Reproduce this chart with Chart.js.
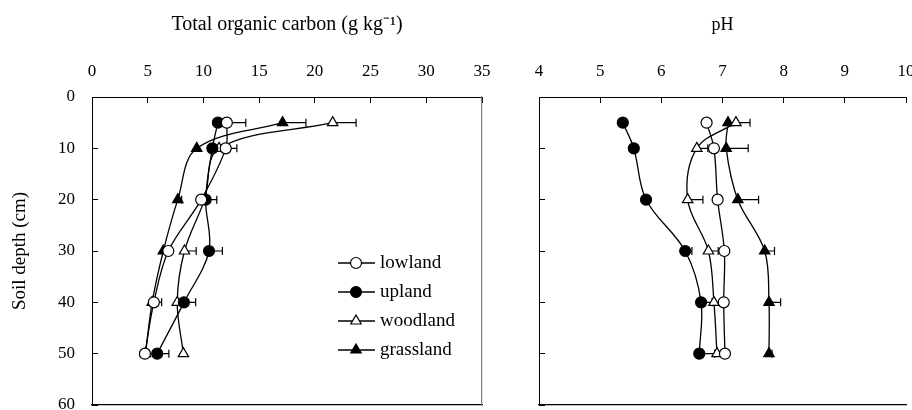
<!DOCTYPE html>
<html>
<head>
<meta charset="utf-8">
<script src="https://cdn.jsdelivr.net/npm/chart.js@4.4.1/dist/chart.umd.min.js"></script>
<style>
body{margin:0;background:#fff;}
#wrap{position:relative;width:912px;height:410px;overflow:hidden;background:#fff;}
#tocChart{position:absolute;left:0;top:0;}
#phChart{position:absolute;left:490px;top:0;}
</style>
</head>
<body>
<div id="wrap">
<canvas id="tocChart" width="490" height="410"></canvas>
<canvas id="phChart" width="422" height="410"></canvas>
</div>
<script>
// soil depths (cm)
const depths = [5, 10, 20, 30, 40, 50];
const sites = ["lowland", "upland", "woodland", "grassland"];

// total organic carbon (g/kg) and the + error bar length
const tocLowland = [12.1, 12.0, 9.8, 6.85, 5.55, 4.75];
const tocUpland = [11.3, 10.8, 10.2, 10.5, 8.25, 5.85];
const tocWoodland = [21.6, 11.4, 10.1, 8.3, 7.65, 8.2];
const tocGrassland = [17.1, 9.4, 7.7, 6.4, 5.4, 4.8];
const tocLowlandErr = [1.7, 1.0, 0, 0, 0.7, 0];
const tocUplandErr = [0, 0, 0, 1.2, 1.05, 1.05];
const tocWoodlandErr = [2.1, 0, 1.1, 1.05, 0, 0];
const tocGrasslandErr = [2.1, 0, 0.35, 0, 0, 0];

// pH
const phLowland = [6.74, 6.86, 6.92, 7.03, 7.02, 7.04];
const phUpland = [5.37, 5.55, 5.75, 6.39, 6.65, 6.62];
const phWoodland = [7.22, 6.58, 6.43, 6.77, 6.86, 6.91];
const phGrassland = [7.09, 7.06, 7.25, 7.69, 7.76, 7.76];
const phLowlandErr = [0, 0, 0, 0, 0, 0];
const phUplandErr = [0, 0, 0, 0.11, 0.18, 0.25];
const phWoodlandErr = [0.23, 0.18, 0.25, 0.16, 0, 0];
const phGrasslandErr = [0, 0.36, 0.34, 0.16, 0.19, 0.05];

const FONT = "'Liberation Serif', 'Times New Roman', serif";
Chart.defaults.font.family = FONT;
Chart.defaults.font.size = 17;
Chart.defaults.color = '#000';

const markers = [
  {pointStyle: 'circle', fill: '#fff', radius: 5.5},
  {pointStyle: 'circle', fill: '#000', radius: 5.5},
  {pointStyle: 'triangle', fill: '#fff', radius: 6},
  {pointStyle: 'triangle', fill: '#000', radius: 6}
];

function makeDatasets(series, errs) {
  return series.map((vals, k) => ({
    label: sites[k],
    data: vals.map((v, i) => ({x: v, y: depths[i]})),
    err: errs[k],
    showLine: true,
    borderColor: '#000',
    borderWidth: 1.3,
    tension: 0.35,
    pointStyle: markers[k].pointStyle,
    pointRadius: markers[k].radius,
    pointBackgroundColor: markers[k].fill,
    pointBorderColor: '#000',
    pointBorderWidth: 1.2,
    clip: false
  }));
}

// + error bars with a cap
const errorBars = {
  id: 'errorBars',
  beforeDatasetsDraw(chart) {
    const ctx = chart.ctx;
    const xs = chart.scales.x, ys = chart.scales.y;
    ctx.save();
    ctx.strokeStyle = '#000';
    ctx.lineWidth = 1.2;
    chart.data.datasets.forEach(ds => {
      ds.data.forEach((p, i) => {
        const e = ds.err[i];
        if (!e) return;
        const x0 = xs.getPixelForValue(p.x);
        const x1 = xs.getPixelForValue(p.x + e);
        const y = ys.getPixelForValue(p.y);
        ctx.beginPath();
        ctx.moveTo(x0, y); ctx.lineTo(x1, y);
        ctx.moveTo(x1, y - 4); ctx.lineTo(x1, y + 4);
        ctx.stroke();
      });
    });
    ctx.restore();
  }
};

// legend inside the left plot
const insideLegend = {
  id: 'insideLegend',
  afterDraw(chart) {
    const ctx = chart.ctx;
    const rows = [263, 292, 321, 350];
    ctx.save();
    chart.data.datasets.forEach((ds, k) => {
      const y = rows[k];
      ctx.strokeStyle = '#000';
      ctx.lineWidth = 1.3;
      ctx.beginPath(); ctx.moveTo(338, y); ctx.lineTo(375, y); ctx.stroke();
      ctx.fillStyle = ds.pointBackgroundColor;
      ctx.strokeStyle = '#000';
      ctx.lineWidth = 1.2;
      Chart.helpers.drawPoint(ctx, {pointStyle: ds.pointStyle, radius: ds.pointRadius, rotation: 0, borderWidth: 1.2}, 356, y);
      ctx.fillStyle = '#000';
      ctx.font = '19px ' + FONT;
      ctx.textBaseline = 'middle';
      ctx.textAlign = 'left';
      ctx.fillText(ds.label, 380, y);
    });
    ctx.restore();
  }
};

function axisGrid() {
  return {drawOnChartArea: false, drawTicks: true, tickLength: -6, color: '#000', lineWidth: 1};
}

// fix the box size and drop the label overhang padding
function fixSize(w, h) {
  return function(s) {
    if (w !== null) s.width = w;
    if (h !== null) s.height = h;
    s.paddingLeft = s.paddingRight = s.paddingTop = s.paddingBottom = 0;
  };
}

function makeScales(xMin, xMax, xStep, xTitle, xTitleSize, yLabels, yWidth, rightBorder) {
  const sc = {
    x: {
      type: 'linear', position: 'top', min: xMin, max: xMax,
      ticks: {stepSize: xStep, padding: 21, maxRotation: 0},
      grid: axisGrid(),
      border: {display: true, color: '#000', width: 1},
      title: {display: true, text: xTitle, font: {size: xTitleSize},
              padding: {top: 25 - xTitleSize * 0.6, bottom: 0}},
      afterFit: fixSize(null, 97)
    },
    y: {
      type: 'linear', position: 'left', reverse: true, min: 0, max: 60,
      ticks: {stepSize: 10, padding: 23, display: yLabels},
      grid: axisGrid(),
      border: {display: true, color: '#000', width: 1},
      title: {display: yLabels, text: 'Soil depth (cm)', font: {size: 19}, padding: {top: 9, bottom: 0}},
      afterFit: fixSize(yWidth, null)
    },
    x2: {
      type: 'linear', position: 'bottom', min: xMin, max: xMax,
      ticks: {display: false},
      grid: {display: false},
      border: {display: true, color: '#000', width: 1.2},
      afterFit: fixSize(null, 0)
    }
  };
  if (rightBorder) {
    sc.y2 = {
      type: 'linear', position: 'right', reverse: true, min: 0, max: 60,
      ticks: {display: false},
      grid: {display: false},
      border: {display: true, color: '#808080', width: 1.2},
      afterFit: fixSize(0, null)
    };
  }
  return sc;
}

new Chart(document.getElementById('tocChart'), {
  type: 'scatter',
  data: {
    datasets: makeDatasets(
      [tocLowland, tocUpland, tocWoodland, tocGrassland],
      [tocLowlandErr, tocUplandErr, tocWoodlandErr, tocGrasslandErr])
  },
  options: {
    responsive: false,
    animation: false,
    layout: {autoPadding: false, padding: {left: 0, top: 0, right: 8, bottom: 5}},
    plugins: {legend: {display: false}, tooltip: {enabled: false}},
    scales: makeScales(0, 35, 5, 'Total organic carbon (g kg\u207B\u00B9)', 20, true, 92, true)
  },
  plugins: [errorBars, insideLegend]
});

new Chart(document.getElementById('phChart'), {
  type: 'scatter',
  data: {
    datasets: makeDatasets(
      [phLowland, phUpland, phWoodland, phGrassland],
      [phLowlandErr, phUplandErr, phWoodlandErr, phGrasslandErr])
  },
  options: {
    responsive: false,
    animation: false,
    layout: {autoPadding: false, padding: {left: 0, top: 0, right: 6, bottom: 5}},
    plugins: {legend: {display: false}, tooltip: {enabled: false}},
    scales: makeScales(4, 10, 1, 'pH', 18, false, 49, false)
  },
  plugins: [errorBars]
});
</script>
</body>
</html>
